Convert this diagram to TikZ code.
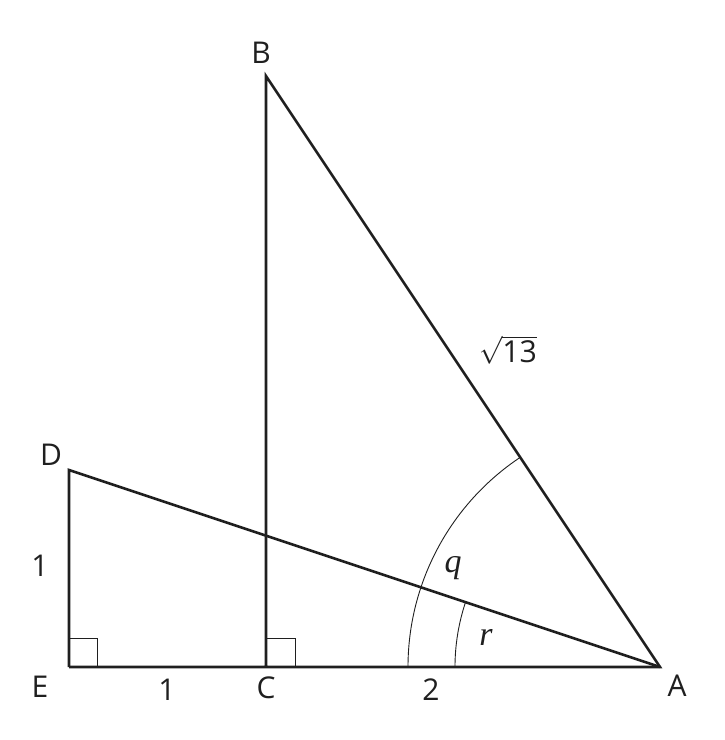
\documentclass[tikz,border=0pt]{standalone}
\usepackage{fontspec}
\setmainfont{Open Sans}
\newfontfamily\vfont{Liberation Serif}
\begin{document}
\begin{tikzpicture}[x=1pt,y=-1pt,
  edge/.style={line width=2.6pt,line join=miter,color=black!88},
  thin/.style={line width=0.9pt,color=black!88},
  lbl/.style={font=\fontsize{30}{32}\selectfont,text=black!88,inner sep=0pt},
  vlbl/.style={font=\vfont\itshape\fontsize{34}{36}\selectfont,text=black!88,inner sep=0pt}]
\useasboundingbox (0,0) rectangle (724,740);
\coordinate (E) at (69,667);
\coordinate (C) at (266,667);
\coordinate (A) at (660,667);
\coordinate (B) at (266,76);
\coordinate (D) at (69,470);
% right angle marks
\draw[thin] (69,638) -- (97,638) -- (97,667);
\draw[thin] (266,638) -- (295,638) -- (295,667);
% angle arcs
\draw[thin] (A) ++(180:252) arc[start angle=180,end angle=236.31,radius=252];
\draw[thin] (A) ++(180:205) arc[start angle=180,end angle=198.43,radius=205];
% main lines
\draw[edge] (E) -- (A) -- (B) -- (C);
\draw[edge] (E) -- (D) -- (A);
% labels
\node[lbl] (lB) at (261,53) {B};
\node[lbl] (lD) at (51,455) {D};
\node[lbl] (lE) at (40,687) {E};
\node[lbl] (lC) at (266,688) {C};
\node[lbl] (lA) at (677,686) {A};
\node[lbl] (l1a) at (40,566) {1};
\node[lbl] (l1b) at (167,690) {1};
\node[lbl] (l2) at (431,690) {2};
\node[lbl] (ls) at (508,350) {\scalebox{1.12}{$\sqrt{\mbox{\fontsize{27}{30}\selectfont 13}}$}};
\node[vlbl] (lq) at (453,568) {q};
\node[vlbl] (lr) at (486,637) {r};
\end{tikzpicture}
\end{document}
